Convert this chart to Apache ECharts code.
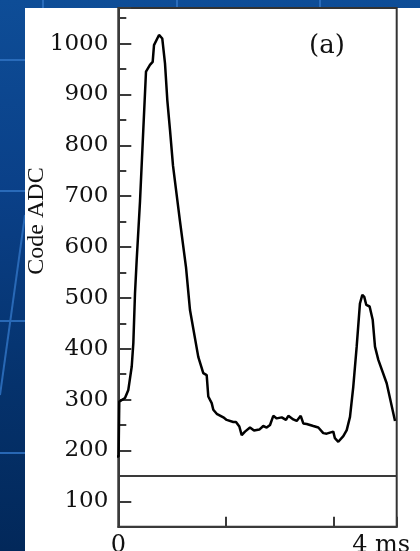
<!DOCTYPE html>
<html><head><meta charset="utf-8">
<script src="https://cdn.jsdelivr.net/npm/echarts@6/dist/echarts.min.js"></script>
<style>
html,body{margin:0;padding:0;width:420px;height:551px;overflow:hidden;}
body{background:linear-gradient(180deg,#0e4d97 0%,#0a4088 35%,#05326c 70%,#02285a 100%);position:relative;}
#deco{position:absolute;left:0;top:0;width:420px;height:551px;}
#panel{position:absolute;left:25px;top:8px;right:0;bottom:0;background:#fff;}
#chart{position:absolute;left:0;top:0;width:420px;height:551px;}
</style></head>
<body>
<svg id="deco" width="420" height="551">
  <g stroke="#2f72c2" stroke-width="2" opacity="0.85">
    <line x1="0" y1="60" x2="25" y2="60"/>
    <line x1="0" y1="191" x2="25" y2="191"/>
    <line x1="0" y1="321" x2="25" y2="321"/>
    <line x1="0" y1="453" x2="25" y2="453"/>
    <line x1="43" y1="0" x2="43" y2="8"/>
    <line x1="177" y1="0" x2="177" y2="8"/>
    <line x1="320" y1="0" x2="320" y2="8"/>
    <line x1="25" y1="215" x2="0" y2="395"/>
  </g>
</svg>
<div id="panel"></div>
<div id="chart"></div>
<script>
// Data
const timeMs = [-0.105,0.004,0.014,0.096,0.144,0.193,0.216,0.240,0.264,0.312,0.359,0.398,0.455,0.494,0.513,0.585,0.609,0.632,0.671,0.704,0.743,0.786,0.886,0.973,1.030,1.149,1.221,1.270,1.293,1.342,1.365,1.414,1.437,1.509,1.557,1.652,1.691,1.739,1.773,1.820,1.892,1.950,2.026,2.083,2.132,2.180,2.227,2.276,2.348,2.409,2.443,2.514,2.563,2.621,2.658,2.707,2.802,2.874,2.945,2.994,3.041,3.089,3.112,3.161,3.185,3.233,3.282,3.329,3.376,3.425,3.472,3.506,3.534,3.563,3.611,3.655,3.688,3.736,3.856,3.976];
const codeAdc = [188,188,296,303,319,365,411,509,574,690,830,945,958,964,997,1017,1020,1010,961,889,830,760,651,560,476,384,352,348,306,293,280,272,270,265,260,256,256,247,230,237,245,239,241,248,245,250,268,263,265,260,268,261,258,268,253,252,248,245,234,233,235,237,224,217,215,228,240,266,325,404,489,506,502,486,483,457,404,378,332,258];
const baselineLevel = 150;
const yTickLabels = ['100','200','300','400','500','600','700','800','900','1000'];
const xTickLabels = ['0','4 ms'];
const panelLabel = '(a)';
const yName = 'Code ADC';

const chart = echarts.init(document.getElementById('chart'), null, {renderer:'canvas'});
const axisColor = '#3a3a3a';
const option = {
  animation: false,
  backgroundColor: 'transparent',
  grid: [
    {left:118.3, right:23.3, top:8, bottom:24.3, show:true, borderColor:'#333', borderWidth:2, backgroundColor:'transparent', containLabel:false, outerBoundsMode:'none'},
    {left:118.3, right:23.3, top:8, bottom:49.73, show:false, containLabel:false, outerBoundsMode:'none'}
  ],
  xAxis: [
    {gridIndex:0, type:'value', min:0, max:4, interval:1.55,
     axisLine:{show:true, lineStyle:{color:axisColor, width:2}},
     axisTick:{show:true, inside:true, length:10, lineStyle:{color:axisColor, width:2}},
     splitLine:{show:false},
     axisLabel:{show:true, margin:7, fontFamily:'DejaVu Serif', fontSize:24, color:'#111',
       formatter: function(v){
         if (Math.abs(v) < 1e-9) return xTickLabels[0];
         if (Math.abs(v-4) < 1e-9) return '{r|' + xTickLabels[1] + '}';
         return '';
       },
       rich:{r:{fontFamily:'DejaVu Serif', fontSize:24, color:'#111', padding:[0,31,0,0]}}
     }},
    {gridIndex:1, type:'value', min:0, max:4, show:false}
  ],
  yAxis: [
    {gridIndex:0, type:'value', min:50, max:1070, interval:50,
     axisLine:{show:true, lineStyle:{color:axisColor, width:2}},
     axisTick:{show:true, inside:true, length:8, lineStyle:{color:axisColor, width:2}},
     axisLabel:{show:false}, splitLine:{show:false}},
    {gridIndex:1, type:'value', min:100, max:1070, interval:100,
     axisLine:{show:false},
     axisTick:{show:true, inside:true, length:13, lineStyle:{color:axisColor, width:2}},
     splitLine:{show:false},
     axisLabel:{show:true, margin:10, fontFamily:'DejaVu Serif', fontSize:23, color:'#111',
       formatter: function(v){
         const s = String(Math.round(v));
         return yTickLabels.indexOf(s) >= 0 && Math.abs(v - Math.round(v)) < 1e-9 ? s : '';
       }}}
  ],
  graphic: [
    {type:'text', x:37, y:221, rotation:Math.PI/2,
     style:{text:yName, fontFamily:'Liberation Serif', fontSize:24, fill:'#111', textAlign:'center', textVerticalAlign:'middle'}},
    {type:'text', x:327, y:46,
     style:{text:panelLabel, fontFamily:'DejaVu Serif', fontSize:26, fill:'#111', textAlign:'center', textVerticalAlign:'middle'}}
  ],
  series: [
    {type:'line', xAxisIndex:0, yAxisIndex:0, data: timeMs.map((t,i)=>[t, codeAdc[i]]),
     showSymbol:false, symbol:'none', clip:false, smooth:false, z:5,
     lineStyle:{color:'#000', width:2.5}, silent:true,
     markLine:{silent:true, symbol:['none','none'], label:{show:false},
       lineStyle:{color:axisColor, width:2, type:'solid'}, emphasis:{disabled:true},
       data:[{yAxis:baselineLevel}]}}
  ]
};
chart.setOption(option);
</script>
</body></html>
